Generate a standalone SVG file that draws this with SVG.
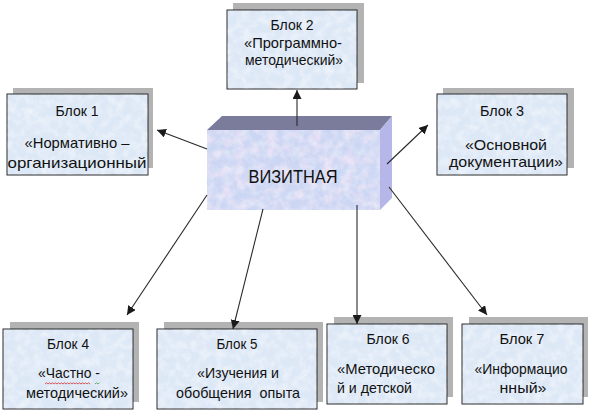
<svg xmlns="http://www.w3.org/2000/svg" width="592" height="414" viewBox="0 0 592 414">
<defs>
  <filter id="tx" x="0" y="0" width="1" height="1">
    <feTurbulence type="fractalNoise" baseFrequency="0.12" numOctaves="3" seed="7" result="n"/>
    <feColorMatrix in="n" type="matrix" values="0 0 0 0 1  0 0 0 0 1  0 0 0 0 1  1.8 0 0 0 -0.7" result="c"/>
    <feComposite in="c" in2="SourceGraphic" operator="in"/>
  </filter>
  <filter id="tx2" x="0" y="0" width="1" height="1">
    <feTurbulence type="fractalNoise" baseFrequency="0.09" numOctaves="3" seed="11" result="n"/>
    <feColorMatrix in="n" type="matrix" values="0 0 0 0 0.95  0 0 0 0 0.8  0 0 0 0 0.93  2.2 0 0 0 -0.9" result="c"/>
    <feComposite in="c" in2="SourceGraphic" operator="in"/>
  </filter>
  <marker id="ah" viewBox="0 0 10 10" refX="10" refY="5" markerWidth="9" markerHeight="9" markerUnits="userSpaceOnUse" orient="auto">
    <path d="M0,0 L10,5 L0,10 z" fill="#1a1a1a"/>
  </marker>
</defs>
<style>
  .sh { fill: #b3b3b3; }
  .bx { fill: #dde8f6; stroke: #2a2a2a; stroke-width: 1; }
  .nz { fill: #fff; opacity: 0.55; filter: url(#tx); }
  .t { font-family: "Liberation Sans", Arial, sans-serif; font-size: 14.5px; fill: #111; text-anchor: middle; }
  .tl { text-anchor: start; }
  .big { font-size: 18px; }
  .ln { stroke: #2a2a2a; stroke-width: 1.1; fill: none; marker-end: url(#ah); }
</style>

<g id="vizitnaya">
  <rect x="207" y="130" width="173" height="80" fill="#cbd6f3"/>
  <rect x="207" y="130" width="173" height="80" fill="#fff" filter="url(#tx2)" opacity="0.7"/>
  <rect x="207" y="130" width="173" height="80" fill="#fff" filter="url(#tx)" opacity="0.45"/>
  <polygon points="207,130 222,116 392,116 380,130" fill="#7b7b9c"/>
  <polygon points="380,130 392,116 392,198 380,210" fill="#b6b6e8"/>
  <text class="t big" x="293" y="183" textLength="89" lengthAdjust="spacingAndGlyphs">ВИЗИТНАЯ</text>
</g>

<g id="block1">
  <rect class="sh" x="13" y="88" width="140" height="80"/>
  <rect class="bx" x="7" y="94" width="141" height="81"/>
  <rect class="nz" x="7.5" y="94.5" width="140" height="80"/>
  <text class="t" x="77" y="116" textLength="43" lengthAdjust="spacingAndGlyphs">Блок 1</text>
  <text class="t" x="77" y="148" textLength="105" lengthAdjust="spacingAndGlyphs">«Нормативно –</text>
  <text class="t" x="77" y="168" textLength="139" lengthAdjust="spacingAndGlyphs">организационный</text>
</g>

<g id="block2">
  <rect class="sh" x="233" y="3" width="131" height="80"/>
  <rect class="bx" x="227" y="10" width="130" height="79"/>
  <rect class="nz" x="227.5" y="10.5" width="129" height="78"/>
  <text class="t" x="292" y="30" textLength="43" lengthAdjust="spacingAndGlyphs">Блок 2</text>
  <text class="t" x="293" y="48" textLength="98" lengthAdjust="spacingAndGlyphs">«Программно-</text>
  <text class="t" x="294" y="65" textLength="98" lengthAdjust="spacingAndGlyphs">методический»</text>
</g>

<g id="block3">
  <rect class="sh" x="443" y="88" width="131" height="80"/>
  <rect class="bx" x="437" y="94" width="130" height="81"/>
  <rect class="nz" x="437.5" y="94.5" width="129" height="80"/>
  <text class="t" x="502" y="116" textLength="44" lengthAdjust="spacingAndGlyphs">Блок 3</text>
  <text class="t" x="506" y="150" textLength="82" lengthAdjust="spacingAndGlyphs">«Основной</text>
  <text class="t" x="506" y="167" textLength="114" lengthAdjust="spacingAndGlyphs">документации»</text>
</g>

<g id="block4">
  <rect class="sh" x="10" y="322" width="129" height="80"/>
  <rect class="bx" x="3" y="329" width="130" height="80"/>
  <rect class="nz" x="3.5" y="329.5" width="129" height="79"/>
  <text class="t" x="68" y="349" textLength="42" lengthAdjust="spacingAndGlyphs">Блок 4</text>
  <text class="t" x="69" y="378" textLength="62" lengthAdjust="spacingAndGlyphs">«Частно -</text>
  <text class="t" x="77" y="398" textLength="102" lengthAdjust="spacingAndGlyphs">методический»</text>
  <path d="M45,384 l1.5,-1.2 l1.5,1.2 l1.5,-1.2 l1.5,1.2 l1.5,-1.2 l1.5,1.2 l1.5,-1.2 l1.5,1.2 l1.5,-1.2 l1.5,1.2 l1.5,-1.2 l1.5,1.2 l1.5,-1.2 l1.5,1.2 l1.5,-1.2 l1.5,1.2 l1.5,-1.2 l1.5,1.2 l1.5,-1.2 l1.5,1.2 l1.5,-1.2 l1.5,1.2 l1.5,-1.2 l1.5,1.2 l1.5,-1.2 l1.5,1.2 l1.5,-1.2 l1.5,1.2 l1.5,-1.2 l1.5,1.2" fill="none" stroke="#d03030" stroke-width="0.8"/>
  <path d="M95,384 l1.5,-1.2 l1.5,1.2 l1.5,-1.2" fill="none" stroke="#3a9a3a" stroke-width="0.8"/>
</g>

<g id="block5">
  <rect class="sh" x="164" y="322" width="159" height="80"/>
  <rect class="bx" x="157" y="329" width="160" height="80"/>
  <rect class="nz" x="157.5" y="329.5" width="159" height="79"/>
  <text class="t" x="237" y="349" textLength="41" lengthAdjust="spacingAndGlyphs">Блок 5</text>
  <text class="t" x="238" y="378" textLength="82" lengthAdjust="spacingAndGlyphs">«Изучения и</text>
  <text class="t" x="238" y="398" textLength="124" lengthAdjust="spacingAndGlyphs" xml:space="preserve">обобщения  опыта</text>
</g>

<g id="block6">
  <rect class="sh" x="334" y="317" width="119" height="80"/>
  <rect class="bx" x="327" y="324" width="120" height="80"/>
  <rect class="nz" x="327.5" y="324.5" width="119" height="79"/>
  <text class="t" x="388" y="344" textLength="43" lengthAdjust="spacingAndGlyphs">Блок 6</text>
  <text class="t tl" x="337" y="374" textLength="98" lengthAdjust="spacingAndGlyphs">«Методическо</text>
  <text class="t tl" x="337" y="393" textLength="75" lengthAdjust="spacingAndGlyphs">й и детской</text>
</g>

<g id="block7">
  <rect class="sh" x="469" y="317" width="119" height="80"/>
  <rect class="bx" x="462" y="324" width="121" height="80"/>
  <rect class="nz" x="462.5" y="324.5" width="120" height="79"/>
  <text class="t" x="522" y="344" textLength="45" lengthAdjust="spacingAndGlyphs">Блок 7</text>
  <text class="t" x="521" y="374" textLength="93" lengthAdjust="spacingAndGlyphs">«Информацио</text>
  <text class="t" x="523" y="393" textLength="47" lengthAdjust="spacingAndGlyphs">нный»</text>
</g>

<g id="connectors">
  <line class="ln" x1="297" y1="126" x2="297" y2="90"/>
  <line class="ln" x1="207" y1="149" x2="157" y2="130"/>
  <line class="ln" x1="387" y1="164" x2="428" y2="125"/>
  <line class="ln" x1="207" y1="195" x2="127" y2="315"/>
  <line class="ln" x1="263" y1="209" x2="233" y2="329"/>
  <line class="ln" x1="357" y1="205" x2="357" y2="324"/>
  <line class="ln" x1="389" y1="187" x2="487" y2="315"/>
</g>
</svg>
